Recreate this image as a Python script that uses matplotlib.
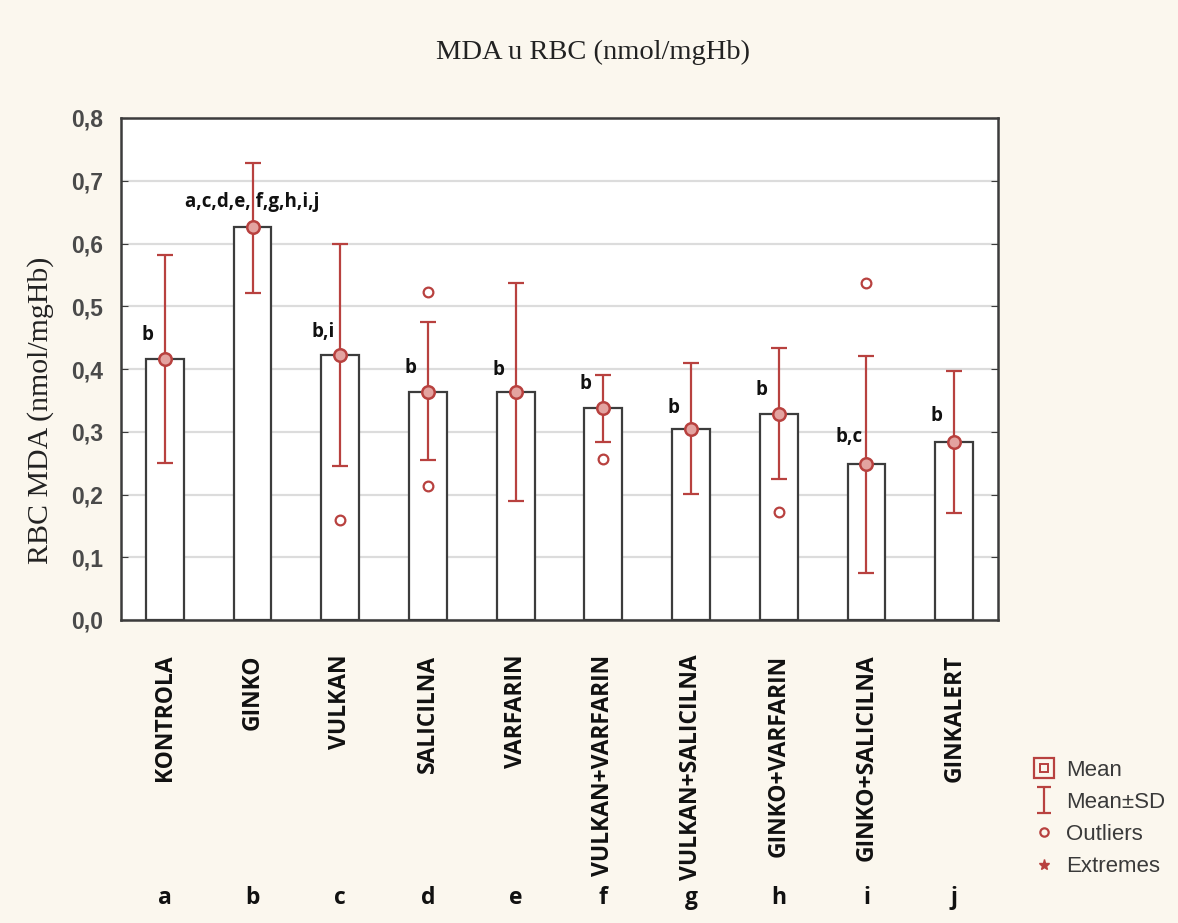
import matplotlib
matplotlib.use("Agg")
import matplotlib.pyplot as plt
import numpy as np
from matplotlib.lines import Line2D
from matplotlib.path import Path
from matplotlib.ticker import FuncFormatter

categories = ["KONTROLA", "GINKO", "VULKAN", "SALICILNA", "VARFARIN",
              "VULKAN+VARFARIN", "VULKAN+SALICILNA", "GINKO+VARFARIN",
              "GINKO+SALICILNA", "GINKALERT"]
letters = ["a", "b", "c", "d", "e", "f", "g", "h", "i", "j"]
means = [0.416, 0.626, 0.422, 0.364, 0.364, 0.338, 0.304, 0.328, 0.249, 0.284]
sd_upper = [0.582, 0.728, 0.599, 0.475, 0.537, 0.390, 0.410, 0.433, 0.421, 0.397]
sd_lower = [0.250, 0.521, 0.245, 0.255, 0.190, 0.284, 0.201, 0.225, 0.075, 0.171]
outlier_idx = [2, 3, 3, 5, 7, 8]
outlier_val = [0.160, 0.523, 0.213, 0.257, 0.172, 0.537]
sig_labels = ["b", "a,c,d,e, f,g,h,i,j", "b,i", "b", "b", "b", "b", "b", "b,c", "b"]
sig_y = [0.454, 0.666, 0.459, 0.402, 0.398, 0.376, 0.338, 0.367, 0.292, 0.325]
yticks = [0.0, 0.1, 0.2, 0.3, 0.4, 0.5, 0.6, 0.7, 0.8]

RED = "#b8413f"
EDGE = "#3c3c3c"
BG = "#fbf7ee"

fig = plt.figure(figsize=(11.78, 9.23), dpi=100, facecolor=BG)
ax = fig.add_axes([121/1178, 1-620/923, (998-121)/1178, (620-118)/923])
ax.set_facecolor("white")

x = np.arange(len(categories))
ax.bar(x, means, width=0.43, color="white", edgecolor=EDGE, linewidth=1.6, zorder=2)
yerr = [np.array(means) - np.array(sd_lower), np.array(sd_upper) - np.array(means)]
ax.errorbar(x, means, yerr=yerr, fmt="none", ecolor=RED, elinewidth=1.6,
            capsize=6, capthick=1.6, zorder=3)
ax.plot(x, means, linestyle="none", marker="o", markersize=9,
        markerfacecolor="#e3a3a0", markeredgecolor=RED, markeredgewidth=1.8, zorder=4)
ax.plot(outlier_idx, outlier_val, linestyle="none", marker="o", markersize=7,
        markerfacecolor="none", markeredgecolor=RED, markeredgewidth=1.6, zorder=4)

for i, (lab, yy) in enumerate(zip(sig_labels, sig_y)):
    xo = 0.0 if i == 1 else -0.2
    ax.text(i + xo, yy, lab, ha="center", va="center", fontsize=13.5,
            fontweight="bold", family="Open Sans", color="#111111", zorder=5)

ax.set_xlim(-0.5, 9.5)
ax.set_ylim(0, 0.8)
ax.set_yticks(yticks)
ax.yaxis.set_major_formatter(FuncFormatter(lambda v, p: f"{v:.1f}".replace(".", ",")))
ax.set_xticks(x)
ax.set_xticklabels(categories, rotation=90, fontsize=16.5, fontweight="bold",
                   family="Open Sans", color="#111111")
ax.tick_params(axis="x", direction="in", length=3, pad=25, color=EDGE)
ax.tick_params(axis="y", direction="in", length=5, pad=13, color=EDGE,
               labelsize=16.5, labelcolor="#4a4a4a", right=True)
for t in ax.get_yticklabels():
    t.set_family("Liberation Sans")
    t.set_fontweight("bold")
ax.grid(axis="y", color="#dcdcdc", linewidth=1.6, zorder=0)
ax.set_axisbelow(True)
for s in ax.spines.values():
    s.set_color(EDGE)
    s.set_linewidth(1.8)

fig.text(0.503, 0.943, "MDA u RBC (nmol/mgHb)", ha="center", va="center",
         fontsize=20.5, family="Liberation Serif", color="#222222")
fig.text(0.034, 0.555, "RBC MDA (nmol/mgHb)", ha="center", va="center", rotation=90,
         fontsize=21.5, family="Liberation Serif", color="#222222")

trans = matplotlib.transforms.blended_transform_factory(ax.transData, fig.transFigure)
for i, l in enumerate(letters):
    ax.text(i, 1-898/923, l, transform=trans, ha="center", va="center",
            fontsize=16.5, fontweight="bold", family="Open Sans", color="#111111")

ibeam = Path([(-0.5, 1), (0.5, 1), (0, 1), (0, -1), (-0.5, -1), (0.5, -1)],
             [Path.MOVETO, Path.LINETO, Path.MOVETO, Path.LINETO, Path.MOVETO, Path.LINETO])
h_mean = (Line2D([], [], linestyle="none", marker="s", markersize=15, markerfacecolor="none",
                 markeredgecolor=RED, markeredgewidth=1.6),
          Line2D([], [], linestyle="none", marker="s", markersize=6, markerfacecolor="none",
                 markeredgecolor=RED, markeredgewidth=1.4))
h_sd = Line2D([], [], linestyle="none", marker=ibeam, markersize=19, markerfacecolor="none",
              markeredgecolor=RED, markeredgewidth=1.6)
h_out = Line2D([], [], linestyle="none", marker="o", markersize=6, markerfacecolor="none",
               markeredgecolor=RED, markeredgewidth=1.6)
h_ext = Line2D([], [], linestyle="none", marker="*", markersize=8, markerfacecolor=RED,
               markeredgecolor=RED)
leg = fig.legend([h_mean, h_sd, h_out, h_ext], ["Mean", "Mean±SD", "Outliers", "Extremes"],
                 loc="upper left", bbox_to_anchor=(1013/1178, 1-740/923), frameon=False,
                 handlelength=1.0, handletextpad=0.5, labelspacing=0.5,
                 prop={"family": "Liberation Sans", "size": 16})
for t in leg.get_texts():
    t.set_color("#3a3a3a")

fig.savefig("out.png", dpi=100, facecolor=BG)
